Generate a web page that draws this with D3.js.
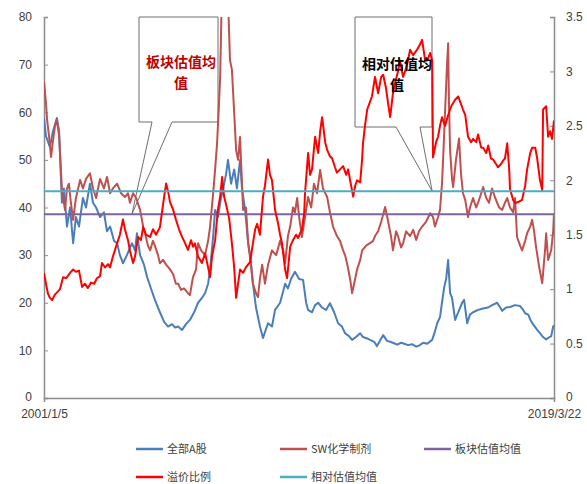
<!DOCTYPE html>
<html>
<head>
<meta charset="utf-8">
<script src="https://cdn.jsdelivr.net/npm/d3@7"></script>
<style>
  body { margin: 0; background: #fff; }
  text { font-family: "Liberation Sans", Arial, sans-serif; }
</style>
</head>
<body>
<div id="chart"></div>
<script>
const width = 587, height = 484;

// [decimal year, value]
const allA = [[2001.01,58.8],[2001.08,55],[2001.22,52.7],[2001.33,56],[2001.47,58.8],[2001.55,56],[2001.65,41],[2001.72,44],[2001.83,36],[2001.94,40],[2002.05,32.5],[2002.15,38],[2002.26,36],[2002.40,42],[2002.51,40],[2002.65,45],[2002.76,41],[2002.87,40],[2003.01,38],[2003.15,39],[2003.26,35],[2003.37,36],[2003.51,33],[2003.62,32.5],[2003.72,30],[2003.83,28.3],[2003.97,30],[2004.15,32.5],[2004.26,31],[2004.33,34.6],[2004.44,30],[2004.58,28],[2004.69,25.4],[2004.83,23],[2004.97,20.6],[2005.15,18],[2005.30,16],[2005.44,15],[2005.58,15.5],[2005.69,14.8],[2005.80,15],[2005.94,14.3],[2006.08,15.5],[2006.22,16.4],[2006.37,18],[2006.51,20],[2006.65,21],[2006.76,22],[2006.87,24],[2006.94,27],[2007.05,34],[2007.12,39.5],[2007.22,38],[2007.33,42],[2007.40,43.7],[2007.51,47],[2007.58,50],[2007.69,45],[2007.80,48],[2007.90,44],[2008.01,50],[2008.08,44],[2008.19,39.5],[2008.30,32.5],[2008.37,30],[2008.47,24],[2008.58,19],[2008.72,15],[2008.83,12.6],[2008.94,14.5],[2009.01,15.7],[2009.15,15],[2009.26,18.5],[2009.44,20],[2009.62,24],[2009.72,23],[2009.83,25],[2009.97,26.5],[2010.12,25],[2010.26,24.8],[2010.37,20],[2010.44,18.5],[2010.58,18],[2010.69,19.5],[2010.80,20],[2010.94,19],[2011.08,18.5],[2011.22,19.9],[2011.37,18],[2011.51,15.7],[2011.65,15],[2011.76,13.6],[2011.90,13],[2012.01,12.2],[2012.15,12.8],[2012.30,13.6],[2012.40,12.8],[2012.55,12.5],[2012.65,12.2],[2012.80,11.8],[2012.90,10.9],[2013.05,12.5],[2013.12,13.2],[2013.26,12],[2013.37,11.8],[2013.51,11.5],[2013.62,11.2],[2013.76,11.6],[2013.87,11.4],[2014.01,11.1],[2014.15,11.3],[2014.30,10.8],[2014.40,11],[2014.55,11.6],[2014.69,11.4],[2014.87,12.2],[2014.97,14],[2015.05,15.7],[2015.15,17],[2015.22,20],[2015.30,23.3],[2015.37,25],[2015.44,29],[2015.51,22],[2015.58,21],[2015.69,16.4],[2015.80,18],[2015.94,20],[2016.01,20.6],[2016.12,15.7],[2016.22,17.5],[2016.33,18],[2016.51,18.5],[2016.69,18.8],[2016.87,19],[2017.01,19.5],[2017.19,20],[2017.30,19],[2017.37,18.3],[2017.51,19],[2017.65,19.1],[2017.83,19.5],[2018.01,19.3],[2018.12,18.5],[2018.19,17.8],[2018.30,17.5],[2018.37,16.5],[2018.47,15.5],[2018.62,14.3],[2018.72,13.6],[2018.83,12.8],[2018.94,12.3],[2019.01,12.6],[2019.12,13],[2019.19,15],[2019.22,15.3]];

const swChem = [[2001.01,66.4],[2001.08,62],[2001.12,58.4],[2001.19,55],[2001.26,50.6],[2001.33,54],[2001.40,57],[2001.47,58.4],[2001.55,55],[2001.65,43.7],[2001.76,39.5],[2001.83,44],[2001.90,45],[2001.97,41],[2002.05,37.4],[2002.15,42],[2002.30,45.8],[2002.40,44],[2002.51,46],[2002.65,47.2],[2002.76,44],[2002.87,42],[2003.01,46],[2003.15,44],[2003.26,46.4],[2003.37,43],[2003.47,44],[2003.62,45],[2003.76,43],[2003.90,42.2],[2004.01,43],[2004.08,41],[2004.19,43],[2004.30,42],[2004.44,39.5],[2004.55,36],[2004.62,34.6],[2004.72,32],[2004.80,31],[2004.90,33],[2004.97,32],[2005.08,30],[2005.15,28.3],[2005.26,29],[2005.37,28],[2005.51,27],[2005.62,26],[2005.72,24],[2005.80,24],[2005.90,22.7],[2006.01,23],[2006.15,22],[2006.22,21.6],[2006.33,25.4],[2006.44,27],[2006.51,32.5],[2006.62,31],[2006.76,30],[2006.87,33],[2006.94,36],[2007.05,43],[2007.12,48],[2007.19,53.5],[2007.26,62],[2007.30,67.4],[2007.37,88],[2007.44,82],[2007.51,90],[2007.58,84],[2007.65,71],[2007.72,68.9],[2007.80,60],[2007.87,52],[2007.94,50],[2008.01,54.8],[2008.08,45],[2008.12,39.5],[2008.22,40],[2008.30,32.5],[2008.40,28],[2008.47,24],[2008.58,22],[2008.65,21.2],[2008.72,25],[2008.80,28],[2008.90,24],[2009.01,28],[2009.15,31],[2009.30,30],[2009.44,33],[2009.55,31],[2009.62,28.3],[2009.72,34],[2009.80,36],[2009.90,40],[2009.97,39],[2010.05,42],[2010.12,38],[2010.22,33.8],[2010.33,38],[2010.44,42.2],[2010.55,40],[2010.65,45],[2010.76,43],[2010.87,47.9],[2010.97,44],[2011.12,42.2],[2011.22,39],[2011.33,36],[2011.47,34],[2011.58,33],[2011.69,31],[2011.76,30],[2011.83,28.3],[2011.94,25],[2012.01,22],[2012.12,25],[2012.19,27],[2012.30,29],[2012.37,31],[2012.51,32],[2012.65,32.5],[2012.76,33],[2012.83,34],[2012.94,35],[2013.05,37],[2013.19,40.1],[2013.30,37],[2013.40,34],[2013.47,31],[2013.58,35],[2013.65,34],[2013.76,31.6],[2013.83,32.5],[2013.94,35],[2014.08,34],[2014.19,35.3],[2014.30,33.2],[2014.40,35],[2014.51,36],[2014.65,37],[2014.80,38.8],[2014.90,38],[2014.97,36],[2015.08,38],[2015.15,39.5],[2015.22,45],[2015.26,50],[2015.33,60],[2015.40,70],[2015.44,74.5],[2015.47,62],[2015.51,52],[2015.58,46],[2015.62,44.3],[2015.72,50],[2015.83,54.5],[2015.90,47],[2015.97,43],[2016.05,41.6],[2016.15,38],[2016.22,40],[2016.33,42],[2016.44,40],[2016.51,41],[2016.62,43],[2016.69,44.3],[2016.80,42],[2016.90,41],[2017.01,44],[2017.12,42],[2017.26,40],[2017.37,39.5],[2017.47,41],[2017.55,42],[2017.65,40],[2017.76,39],[2017.83,42],[2017.90,33.8],[2018.01,32],[2018.08,31],[2018.19,33],[2018.26,34.6],[2018.37,36],[2018.44,37.4],[2018.51,35],[2018.58,31.7],[2018.69,27.5],[2018.80,24.1],[2018.87,29],[2018.90,31],[2018.94,34.6],[2019.01,29],[2019.12,31],[2019.19,35],[2019.22,38.8]];

const premium = [[2001.01,1.15],[2001.08,1.05],[2001.15,0.96],[2001.22,0.92],[2001.30,0.9],[2001.40,0.95],[2001.51,0.98],[2001.58,1.0],[2001.69,1.11],[2001.80,1.1],[2001.94,1.15],[2002.05,1.18],[2002.15,1.16],[2002.26,1.17],[2002.37,1.02],[2002.47,1.05],[2002.58,1.01],[2002.69,1.06],[2002.80,1.05],[2002.90,1.1],[2003.01,1.12],[2003.08,1.24],[2003.19,1.2],[2003.30,1.23],[2003.37,1.2],[2003.47,1.3],[2003.62,1.42],[2003.72,1.5],[2003.83,1.64],[2003.90,1.55],[2004.01,1.45],[2004.08,1.35],[2004.19,1.24],[2004.26,1.3],[2004.37,1.48],[2004.47,1.45],[2004.55,1.57],[2004.65,1.5],[2004.80,1.48],[2004.90,1.55],[2005.01,1.5],[2005.15,1.57],[2005.22,1.7],[2005.30,1.85],[2005.37,1.97],[2005.44,1.9],[2005.51,1.8],[2005.62,1.73],[2005.72,1.64],[2005.83,1.55],[2005.94,1.48],[2006.05,1.42],[2006.15,1.36],[2006.26,1.45],[2006.33,1.39],[2006.40,1.42],[2006.51,1.3],[2006.65,1.24],[2006.76,1.33],[2006.87,1.2],[2006.94,1.11],[2007.01,1.3],[2007.12,1.45],[2007.22,1.73],[2007.30,1.85],[2007.37,2.03],[2007.44,1.85],[2007.51,1.78],[2007.62,1.65],[2007.72,1.42],[2007.80,1.2],[2007.87,0.92],[2007.94,1.05],[2008.01,1.18],[2008.12,1.15],[2008.22,1.2],[2008.37,1.25],[2008.47,1.42],[2008.55,1.55],[2008.62,1.6],[2008.72,1.5],[2008.83,1.85],[2008.90,1.95],[2009.01,2.19],[2009.08,2.05],[2009.15,2.0],[2009.26,1.73],[2009.37,1.6],[2009.44,1.5],[2009.51,1.42],[2009.62,1.18],[2009.69,1.1],[2009.80,1.39],[2009.90,1.45],[2010.01,1.5],[2010.08,1.47],[2010.22,1.55],[2010.30,1.7],[2010.33,1.88],[2010.44,2.25],[2010.51,2.05],[2010.58,2.1],[2010.69,2.4],[2010.80,2.25],[2010.87,2.45],[2010.94,2.58],[2011.05,2.35],[2011.12,2.28],[2011.22,2.22],[2011.30,2.2],[2011.40,2.12],[2011.47,2.07],[2011.58,2.1],[2011.69,2.13],[2011.80,2.05],[2011.87,2.1],[2011.94,2.0],[2012.05,1.85],[2012.12,1.95],[2012.19,2.0],[2012.30,1.98],[2012.37,2.2],[2012.40,2.34],[2012.47,2.5],[2012.55,2.65],[2012.65,2.72],[2012.72,2.77],[2012.83,2.95],[2012.94,2.8],[2013.05,2.95],[2013.12,2.97],[2013.22,2.85],[2013.30,2.7],[2013.37,2.58],[2013.47,2.8],[2013.55,2.9],[2013.65,3.0],[2013.72,3.1],[2013.83,2.95],[2013.90,3.0],[2014.01,3.1],[2014.08,3.2],[2014.19,3.15],[2014.33,3.2],[2014.44,3.25],[2014.51,3.29],[2014.62,3.1],[2014.69,3.1],[2014.80,3.17],[2014.87,3.1],[2014.90,2.21],[2015.01,2.35],[2015.08,2.4],[2015.15,2.5],[2015.22,2.58],[2015.33,2.5],[2015.44,2.6],[2015.55,2.68],[2015.69,2.74],[2015.80,2.77],[2015.90,2.7],[2015.97,2.65],[2016.05,2.6],[2016.15,2.4],[2016.26,2.35],[2016.33,2.38],[2016.44,2.35],[2016.51,2.42],[2016.62,2.3],[2016.69,2.3],[2016.80,2.25],[2016.87,2.32],[2016.97,2.2],[2017.05,2.19],[2017.15,2.15],[2017.22,2.12],[2017.33,2.15],[2017.40,2.18],[2017.47,2.2],[2017.55,2.34],[2017.62,2.1],[2017.65,1.92],[2017.76,1.82],[2017.83,1.79],[2017.94,1.8],[2018.08,1.82],[2018.19,1.95],[2018.26,2.1],[2018.37,2.25],[2018.44,2.3],[2018.55,2.3],[2018.62,2.2],[2018.72,2.0],[2018.80,1.91],[2018.83,2.65],[2018.94,2.68],[2019.01,2.4],[2019.08,2.45],[2019.15,2.38],[2019.22,2.55]];

const sectorMean = 38.6;     // 板块估值均值, left axis
const relativeMean = 1.90;   // 相对估值均值, right axis

const dateRange = [2001.01, 2019.22];
const dateLabels = ["2001/1/5", "2019/3/22"];
const leftTicks = [0, 10, 20, 30, 40, 50, 60, 70, 80];
const rightTicks = [0, 0.5, 1, 1.5, 2, 2.5, 3, 3.5];

const legendNames = ["全部A股", "SW化学制剂", "板块估值均值", "溢价比例", "相对估值均值"];
const colors = ["#4a7ebb", "#c0504d", "#7f63a1", "#ff0000", "#4bacc6"];

const margin = {left: 44, right: 33, top: 17, bottom: 86};
const x = d3.scaleLinear().domain(dateRange).range([margin.left, width - margin.right]);
const yL = d3.scaleLinear().domain([0, 80]).range([height - margin.bottom, margin.top]);
const yR = d3.scaleLinear().domain([0, 3.5]).range([height - margin.bottom, margin.top]);

const svg = d3.select("#chart")
    .append("svg")
    .attr("width", width)
    .attr("height", height);

svg.append("defs").append("clipPath").attr("id", "plot")
    .append("rect")
    .attr("x", x.range()[0]).attr("y", yL.range()[1])
    .attr("width", x.range()[1] - x.range()[0])
    .attr("height", yL.range()[0] - yL.range()[1]);

// axes
const axisColor = "#8c8c8c";
const leftAxis = svg.append("g")
    .attr("transform", `translate(${x.range()[0]},0)`)
    .call(d3.axisLeft(yL).tickValues(leftTicks).tickSize(-4).tickPadding(12));
const rightAxis = svg.append("g")
    .attr("transform", `translate(${x.range()[1]},0)`)
    .call(d3.axisRight(yR).tickValues(rightTicks).tickFormat(d3.format("")).tickSize(-4).tickPadding(12));
const bottomAxis = svg.append("g")
    .attr("transform", `translate(0,${yL.range()[0]})`)
    .call(d3.axisBottom(x).tickValues(dateRange).tickFormat((d, i) => dateLabels[i]).tickSize(4).tickPadding(7));

[leftAxis, rightAxis, bottomAxis].forEach(a => {
    a.select(".domain").attr("stroke", axisColor).attr("stroke-width", 1.5);
    a.selectAll(".tick line").attr("stroke", axisColor);
    a.selectAll(".tick text").attr("fill", "#404040").style("font-size", "12px");
});
leftAxis.selectAll(".tick text").filter(d => d === 0).attr("dy", "0.2em");
rightAxis.selectAll(".tick text").filter(d => d === 0).attr("dy", "0.2em");

// callout boxes (drawn under lines)
const callouts = [
    {box: [139, 17, 218, 122], base: [152, 172], tip: [2004.15, sectorMean], axis: yL},
    {box: [355, 17, 432, 127], base: [396, 420], tip: [2014.87, relativeMean], axis: yR}
];
callouts.forEach(c => {
    const [x0, y0, x1, y1] = c.box;
    const tx = x(c.tip[0]), ty = c.axis(c.tip[1]);
    svg.append("path")
        .attr("d", `M${x0},${y0}H${x1}V${y1}H${c.base[1]}L${tx},${ty}L${c.base[0]},${y1}H${x0}Z`)
        .attr("fill", "#fff")
        .attr("stroke", "#6e6e6e")
        .attr("stroke-width", 1);
});

const plot = svg.append("g").attr("clip-path", "url(#plot)");

const lineL = d3.line().x(d => x(d[0])).y(d => yL(d[1]));
const lineR = d3.line().x(d => x(d[0])).y(d => yR(d[1]));

plot.append("path").datum(allA)
    .attr("d", lineL).attr("fill", "none")
    .attr("stroke", colors[0]).attr("stroke-width", 2).attr("stroke-linejoin", "round");
plot.append("path").datum(swChem)
    .attr("d", lineL).attr("fill", "none")
    .attr("stroke", colors[1]).attr("stroke-width", 2).attr("stroke-linejoin", "round");
plot.append("line")
    .attr("x1", x(dateRange[0])).attr("x2", x(dateRange[1]))
    .attr("y1", yL(sectorMean)).attr("y2", yL(sectorMean))
    .attr("stroke", colors[2]).attr("stroke-width", 2);
plot.append("path").datum(premium)
    .attr("d", lineR).attr("fill", "none")
    .attr("stroke", colors[3]).attr("stroke-width", 2).attr("stroke-linejoin", "round");
plot.append("line")
    .attr("x1", x(dateRange[0])).attr("x2", x(dateRange[1]))
    .attr("y1", yR(relativeMean)).attr("y2", yR(relativeMean))
    .attr("stroke", colors[4]).attr("stroke-width", 2);

// callout text on top
const calloutText = [
    {lines: ["板块估值均", "值"], cx: 181, y: 67, fill: "#c00000"},
    {lines: ["相对估值均", "值"], cx: 397, y: 69, fill: "#000"}
];
calloutText.forEach(t => {
    svg.append("text")
        .attr("text-anchor", "middle")
        .attr("fill", t.fill)
        .style("font-family", "'Noto Sans CJK SC', sans-serif")
        .style("font-size", "14px")
        .style("font-weight", "bold")
        .selectAll("tspan").data(t.lines).join("tspan")
        .attr("x", t.cx)
        .attr("y", (d, i) => t.y + i * 21)
        .text(d => d);
});

// legend
const legendPos = [[136, 449], [280, 449], [424, 449], [136, 477], [280, 477]];
const legend = svg.append("g").selectAll("g").data(legendNames).join("g")
    .attr("transform", (d, i) => `translate(${legendPos[i][0]},${legendPos[i][1]})`);
legend.append("line")
    .attr("x1", 0).attr("x2", 27)
    .attr("stroke", (d, i) => colors[i]).attr("stroke-width", 2.5);
legend.append("text")
    .attr("x", 31).attr("dy", "0.35em")
    .attr("fill", "#404040")
    .style("font-family", "'Noto Sans CJK SC', sans-serif")
    .style("font-size", "11px")
    .text(d => d);
</script>
</body>
</html>
